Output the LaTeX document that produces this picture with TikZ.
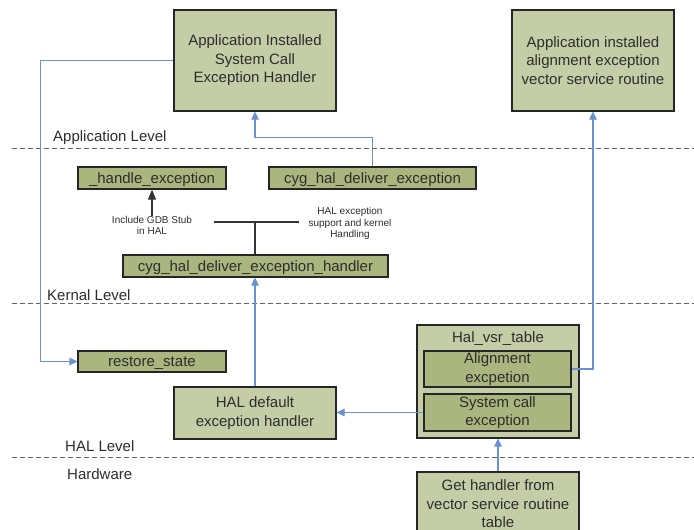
\documentclass[tikz,border=0pt]{standalone}
\usepackage{fontspec}
\setmainfont{Liberation Sans}
\usetikzlibrary{arrows.meta,shadows}
\definecolor{boxlight}{RGB}{197,205,166}
\definecolor{boxdark}{RGB}{171,181,126}
\definecolor{linkblue}{RGB}{104,146,208}
\definecolor{txt}{RGB}{45,45,45}
\tikzset{
  lbox/.style={draw=black!85, line width=1.2pt, fill=boxlight, text=txt, align=center,
    font=\fontsize{15}{18.5}\selectfont, inner sep=0pt,
    drop shadow={shadow xshift=1.2pt, shadow yshift=-1.2pt, opacity=0.35, fill=black}},
  dbox/.style={lbox, fill=boxdark},
  oneline/.style={text height=14pt, text depth=3.4pt},
  link/.style={draw=linkblue, line width=1.2pt, -{Triangle[length=8pt,width=7.5pt]}},
  plain/.style={draw=black!80, line width=1.2pt},
  levelline/.style={draw=black!60, line width=0.9pt, dash pattern=on 5pt off 3pt},
  levellabel/.style={anchor=west, text=txt, font=\fontsize{15}{18}\selectfont, inner sep=0pt},
  note/.style={text=txt, align=center, font=\fontsize{10}{11.5}\selectfont, inner sep=0pt}
}
\begin{document}
\begin{tikzpicture}[x=1pt,y=-1pt]
\useasboundingbox (0,0) rectangle (694,530);

% layer separators
\draw[levelline] (12,148) -- (694,148);
\draw[levelline] (12,303) -- (694,303);
\draw[levelline] (12,457) -- (694,457);
\node[levellabel] (lapp) at (53,138) {Application Level};
\node[levellabel] (lker) at (47,295) {Kernal Level};
\node[levellabel] (lhal) at (65,446) {HAL Level};
\node[levellabel] (lhw) at (67,474) {Hardware};

% application level
\node[lbox, minimum width=162, minimum height=101] (A) at (255,60.5)
  {Application Installed\\System Call\\Exception Handler};
\node[lbox, minimum width=162, minimum height=101] (B) at (593,60.5)
  {Application installed\\alignment exception\\vector service routine};

% kernel level
\node[dbox, oneline, minimum width=148, minimum height=22] (he) at (152,178) {\_handle\_exception};
\node[dbox, oneline, minimum width=207, minimum height=22] (cde) at (372.5,178) {cyg\_hal\_deliver\_exception};
\node[dbox, oneline, minimum width=265, minimum height=22] (cdeh) at (255.5,266) {cyg\_hal\_deliver\_exception\_handler};
\node[note] (gdb) at (152,225.5) {Include GDB Stub\\in HAL};
\node[note] (kern) at (350,223.5) {HAL exception\\support and kernel\\Handling};
\coordinate (tl) at (214,222);
\coordinate (tr) at (299,222);
\coordinate (tj) at (255,222);

% HAL level
\node[dbox, oneline, minimum width=148, minimum height=21] (rs) at (152,361.5) {restore\_state};
\node[lbox, minimum width=162, minimum height=52] (hd) at (255,413) {HAL default\\exception handler};
\node[lbox, minimum width=162, minimum height=113] (vsr) at (498,381.5) {};
\node[text=txt, font=\fontsize{15}{18}\selectfont, inner sep=0pt] (vsrt) at (498,339) {Hal\_vsr\_table};
\node[dbox, minimum width=147, minimum height=36] (al) at (497.5,369) {Alignment\\excpetion};
\node[dbox, minimum width=147, minimum height=37] (sc) at (497.5,412.5) {System call\\exception};

% hardware
\node[lbox, minimum width=162, minimum height=64] (gh) at (498,504)
  {Get handler from\\vector service routine\\table};

% connectors
\draw[plain, -{Triangle[length=10pt,width=8pt]}] (gdb.north) -- (he.south);
\draw[plain] (tl) -- (tr);
\draw[plain] (cdeh.north -| tj) -- (tj);
\draw[link] (cde.north) -- ++(0,-29) -| (A.south);
\draw[link] (A.west) -- ++(-133,0) |- (rs.west);
\draw[link] (hd.north) -- (hd.north |- cdeh.south);
\draw[link] (al.east) -| (B.south);
\draw[link] (sc.west) -- (sc.west -| hd.east);
\draw[link] (gh.north) -- (vsr.south);
\end{tikzpicture}
\end{document}
